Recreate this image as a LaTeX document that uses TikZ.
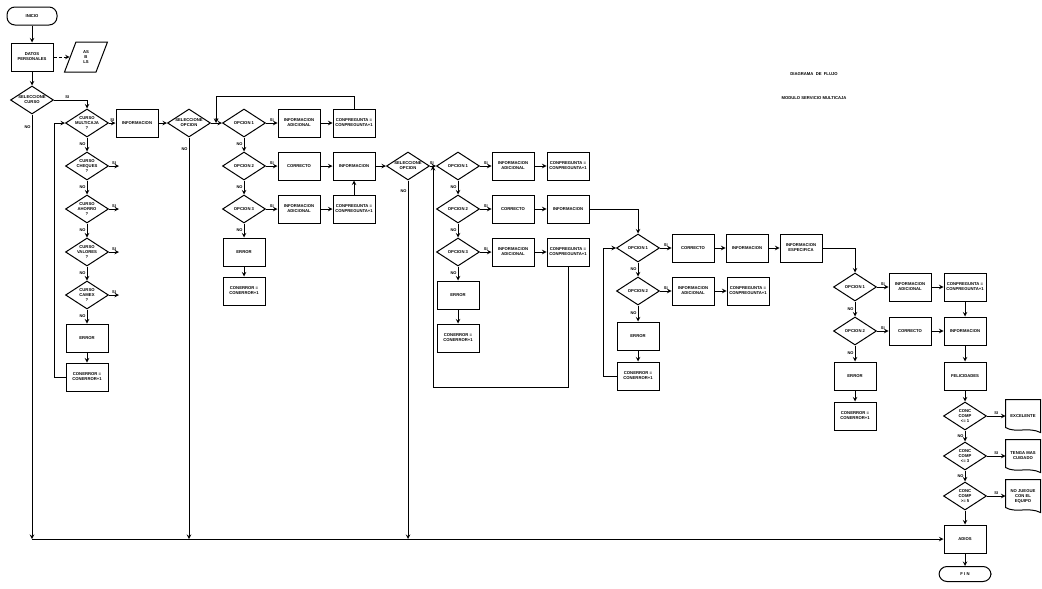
\documentclass[tikz,border=0pt]{standalone}
\usepackage{fontspec}
\setmainfont{Liberation Sans}
\usepackage{tikz}
\usetikzlibrary{shapes.geometric}

\begin{document}
\begin{tikzpicture}[x=1pt, y=-1pt, node distance=43pt, line width=1pt, font=\fontsize{4.2}{5}\selectfont\bfseries]
    \tikzstyle{proc} = [rectangle, draw, minimum width=42pt, minimum height=28pt, text centered, align=center, inner sep=1pt]
    \tikzstyle{decision} = [diamond, draw, aspect=1.5, minimum width=43pt, minimum height=28pt, align=center, inner sep=-1pt]
    \tikzstyle{term} = [rectangle, rounded corners=8pt, draw, minimum width=50pt, minimum height=18pt]
    \tikzstyle{io} = [trapezium, trapezium left angle=70, trapezium right angle=110, trapezium stretches=true, draw, minimum width=43pt, minimum height=30pt, align=center]
    \tikzstyle{paper} = [rectangle, minimum width=34pt, minimum height=32pt, align=center]
    \tikzstyle{arrow} = [->,>=stealth]
    \tikzstyle{lbl} = [font=\fontsize{4}{4}\selectfont\bfseries, inner sep=1pt]

    \useasboundingbox (0,0) rectangle (1042,589);

    % titulo
    \node (titulo) at (814,74) {DIAGRAMA\ \ DE\ \ FLUJO};
    \node (modulo) [below of=titulo, yshift=19pt] {MODULO SERVICIO MULTICAJA};

    % inicio y datos
    \node (inicio) [term] at (32,16) {INICIO};
    \node (datos) [proc, below of=inicio, yshift=2pt] {DATOS\\PERSONALES};
    \node (archivo) [io, right of=datos, xshift=11pt] {AS\\B\\LS};
    \node (selcurso) [decision, below of=datos] {SELECCIONE\\CURSO};

    % cursos
    \node (cu1) [decision] at (87,123) {CURSO\\MULTICAJA\\?};
    \node (cu2) [decision, below of=cu1] {CURSO\\CHEQUES\\?};
    \node (cu3) [decision, below of=cu2] {CURSO\\AHORRO\\?};
    \node (cu4) [decision, below of=cu3] {CURSO\\VALORES\\?};
    \node (cu5) [decision, below of=cu4] {CURSO\\CAMEX\\?};
    \node (errc) [proc, below of=cu5] {ERROR};
    \node (conerrc) [proc, below of=errc, yshift=4pt] {CONERROR =\\CONERROR+1};
    \node (info0) [proc, right of=cu1, xshift=7pt] {INFORMACION};
    \node (selop1) [decision, right of=info0, xshift=9pt] {SELECCIONE\\OPCION};

    % bloque 1
    \node (a1) [decision, right of=selop1, xshift=12pt] {OPCION 1};
    \node (a1ia) [proc, right of=a1, xshift=12pt] {INFORMACION\\ADICIONAL};
    \node (a1cp) [proc, right of=a1ia, xshift=12pt] {CONPREGUNTA =\\CONPREGUNTA+1};
    \node (a2) [decision, below of=a1] {OPCION 2};
    \node (a2ok) [proc, right of=a2, xshift=12pt] {CORRECTO};
    \node (a2in) [proc, right of=a2ok, xshift=12pt] {INFORMACION};
    \node (a3) [decision, below of=a2] {OPCION 3};
    \node (a3ia) [proc, right of=a3, xshift=12pt] {INFORMACION\\ADICIONAL};
    \node (a3cp) [proc, right of=a3ia, xshift=12pt] {CONPREGUNTA =\\CONPREGUNTA+1};
    \node (aerr) [proc, below of=a3] {ERROR};
    \node (acon) [proc, below of=aerr, yshift=4pt] {CONERROR =\\CONERROR+1};
    \node (selop2) [decision, right of=a2in, xshift=11pt] {SELECCIONE\\OPCION};

    % bloque 2
    \node (b1) [decision, right of=selop2, xshift=7pt] {OPCION 1};
    \node (b1ia) [proc, right of=b1, xshift=12pt] {INFORMACION\\ADICIONAL};
    \node (b1cp) [proc, right of=b1ia, xshift=12pt] {CONPREGUNTA =\\CONPREGUNTA+1};
    \node (b2) [decision, below of=b1] {OPCION 2};
    \node (b2ok) [proc, right of=b2, xshift=12pt] {CORRECTO};
    \node (b2in) [proc, right of=b2ok, xshift=12pt] {INFORMACION};
    \node (b3) [decision, below of=b2] {OPCION 3};
    \node (b3ia) [proc, right of=b3, xshift=12pt] {INFORMACION\\ADICIONAL};
    \node (b3cp) [proc, right of=b3ia, xshift=12pt] {CONPREGUNTA =\\CONPREGUNTA+1};
    \node (berr) [proc, below of=b3] {ERROR};
    \node (bcon) [proc, below of=berr] {CONERROR =\\CONERROR+1};

    % bloque 3
    \node (c1) [decision] at (638,248) {OPCION 1};
    \node (c1ok) [proc, right of=c1, xshift=12pt] {CORRECTO};
    \node (c1in) [proc, right of=c1ok, xshift=11pt] {INFORMACION};
    \node (c1esp) [proc, right of=c1in, xshift=11pt] {INFORMACION\\ESPECIFICA};
    \node (c2) [decision, below of=c1] {OPCION 2};
    \node (c2ia) [proc, right of=c2, xshift=12pt] {INFORMACION\\ADICIONAL};
    \node (c2cp) [proc, right of=c2ia, xshift=12pt] {CONPREGUNTA =\\CONPREGUNTA+1};
    \node (cerr) [proc, below of=c2, yshift=-2pt] {ERROR};
    \node (ccon) [proc, below of=cerr, yshift=3pt] {CONERROR =\\CONERROR+1};

    % bloque 4
    \node (d1) [decision] at (855,287) {OPCION 1};
    \node (d1ia) [proc, right of=d1, xshift=12pt] {INFORMACION\\ADICIONAL};
    \node (d1cp) [proc, right of=d1ia, xshift=12pt] {CONPREGUNTA =\\CONPREGUNTA+1};
    \node (d2) [decision, below of=d1, yshift=-1pt] {OPCION 2};
    \node (d2ok) [proc, right of=d2, xshift=12pt] {CORRECTO};
    \node (d2in) [proc, right of=d2ok, xshift=12pt] {INFORMACION};
    \node (derr) [proc, below of=d2, yshift=-2pt] {ERROR};
    \node (dcon) [proc, below of=derr, yshift=3pt] {CONERROR =\\CONERROR+1};
    \node (felic) [proc, below of=d2in, yshift=-2pt] {FELICIDADES};
    \node (e1) [decision, below of=felic, yshift=3pt] {CONC\\COMP\\<= 1};
    \node (e2) [decision, below of=e1, yshift=3pt] {CONC\\COMP\\<= 3};
    \node (e3) [decision, below of=e2, yshift=3pt] {CONC\\COMP\\>= 5};
    \node (exc) [paper, right of=e1, xshift=15pt] {EXCELENTE};
    \node (cuid) [paper, right of=e2, xshift=15pt] {TENGA MAS\\CUIDADO};
    \node (noj) [paper, right of=e3, xshift=15pt] {NO JUEGUE\\CON EL\\EQUIPO};
    \node (adios) [proc, below of=e3] {ADIOS};
    \node (fin) [term, below of=adios, yshift=8pt, minimum height=15pt, minimum width=52pt] {F I N};

    \foreach \n in {exc, cuid, noj}
        \draw (\n.north west) -- (\n.north east) -- (\n.south east) .. controls +(-12pt,6pt) and +(10pt,-6pt) .. ([yshift=5pt]\n.south west) -- cycle;

    % puntos de union
    \coordinate (bus1) at (selcurso.south |- adios.west);
    \coordinate (bus2) at (selop1.south |- adios.west);
    \coordinate (bus3) at (selop2.south |- adios.west);
    \coordinate (ja) at ([xshift=5pt]selop1.east);
    \coordinate (jb) at ([xshift=3pt]selop2.east);
    \coordinate (jc) at ([xshift=-13pt]c1.west);
    \foreach \n in {2,...,5}
        \coordinate (s\n) at ([xshift=10pt]cu\n.east);

    % conectores
    \draw [arrow] (inicio) -- (datos);
    \draw [arrow, densely dashed] (datos) -- (archivo);
    \draw [arrow] (datos) -- (selcurso);
    \draw [arrow] (selcurso.east) -| node [lbl, above, pos=0.2] {SI} (cu1.north);
    \draw [arrow] (selcurso.south) -- node [lbl, left, pos=0.03] {NO} (bus1);
    \draw [arrow] (bus1) -- (adios.west);

    \draw [arrow] (cu1) -- node [lbl, above] {SI} (info0);
    \foreach \a/\b in {cu1/cu2, cu2/cu3, cu3/cu4, cu4/cu5, cu5/errc}
        \draw [arrow] (\a) -- node [lbl, left] {NO} (\b);
    \foreach \n in {2,...,5}
        \draw [arrow] (cu\n.east) -- node [lbl, above] {SI} (s\n);
    \draw [arrow] (errc) -- (conerrc);
    \draw [arrow] (conerrc.west) -- ++(-11,0) |- (cu1.west);

    \draw [arrow] (info0) -- (selop1);
    \draw [arrow] (selop1) -- node [lbl, above] {SI} (a1);
    \draw [arrow] (selop1.south) -- node [lbl, left, pos=0.03] {NO} (bus2);

    \draw [arrow] (a1) -- node [lbl, above] {SI} (a1ia);
    \draw [arrow] (a1ia) -- (a1cp);
    \draw [arrow] (a1cp.north) -- ++(0,-12) -| (ja);
    \draw [arrow] (a2) -- node [lbl, above] {SI} (a2ok);
    \draw [arrow] (a2ok) -- (a2in);
    \draw [arrow] (a3) -- node [lbl, above] {SI} (a3ia);
    \draw [arrow] (a3ia) -- (a3cp);
    \draw [arrow] (a3cp) -- (a2in);
    \foreach \a/\b in {a1/a2, a2/a3, a3/aerr}
        \draw [arrow] (\a) -- node [lbl, left] {NO} (\b);
    \draw [arrow] (aerr) -- (acon);

    \draw [arrow] (a2in) -- (selop2);
    \draw [arrow] (selop2) -- node [lbl, above, pos=0.3] {SI} (b1);
    \draw [arrow] (selop2.south) -- node [lbl, left, pos=0.03] {NO} (bus3);

    \draw [arrow] (b1) -- node [lbl, above] {SI} (b1ia);
    \draw [arrow] (b1ia) -- (b1cp);
    \draw [arrow] (b2) -- node [lbl, above] {SI} (b2ok);
    \draw [arrow] (b2ok) -- (b2in);
    \draw [arrow] (b3) -- node [lbl, above] {SI} (b3ia);
    \draw [arrow] (b3ia) -- (b3cp);
    \draw [arrow] (b3cp.south) -- ++(0,121) -| (jb);
    \foreach \a/\b in {b1/b2, b2/b3, b3/berr}
        \draw [arrow] (\a) -- node [lbl, left] {NO} (\b);
    \draw [arrow] (berr) -- (bcon);
    \draw [arrow] (b2in.east) -| (c1.north);

    \draw [arrow] (c1) -- node [lbl, above] {SI} (c1ok);
    \draw [arrow] (c1ok) -- (c1in);
    \draw [arrow] (c1in) -- (c1esp);
    \draw [arrow] (c2) -- node [lbl, above] {SI} (c2ia);
    \draw [arrow] (c2ia) -- (c2cp);
    \foreach \a/\b in {c1/c2, c2/cerr}
        \draw [arrow] (\a) -- node [lbl, left] {NO} (\b);
    \draw [arrow] (cerr) -- (ccon);
    \draw [arrow] (ccon.west) -| (jc) -- (c1.west);
    \draw [arrow] (c1esp.east) -| (d1.north);

    \draw [arrow] (d1) -- node [lbl, above] {SI} (d1ia);
    \draw [arrow] (d1ia) -- (d1cp);
    \draw [arrow] (d1cp) -- (d2in);
    \draw [arrow] (d2) -- node [lbl, above] {SI} (d2ok);
    \draw [arrow] (d2ok) -- (d2in);
    \foreach \a/\b in {d1/d2, d2/derr}
        \draw [arrow] (\a) -- node [lbl, left] {NO} (\b);
    \draw [arrow] (derr) -- (dcon);
    \draw [arrow] (d2in) -- (felic);
    \draw [arrow] (felic) -- (e1);
    \draw [arrow] (e1) -- node [lbl, above] {SI} (exc);
    \draw [arrow] (e2) -- node [lbl, above] {SI} (cuid);
    \draw [arrow] (e3) -- node [lbl, above] {SI} (noj);
    \foreach \a/\b in {e1/e2, e2/e3}
        \draw [arrow] (\a) -- node [lbl, left] {NO} (\b);
    \draw [arrow] (e3) -- (adios);
    \draw [arrow] (adios) -- (fin);
\end{tikzpicture}
\end{document}
